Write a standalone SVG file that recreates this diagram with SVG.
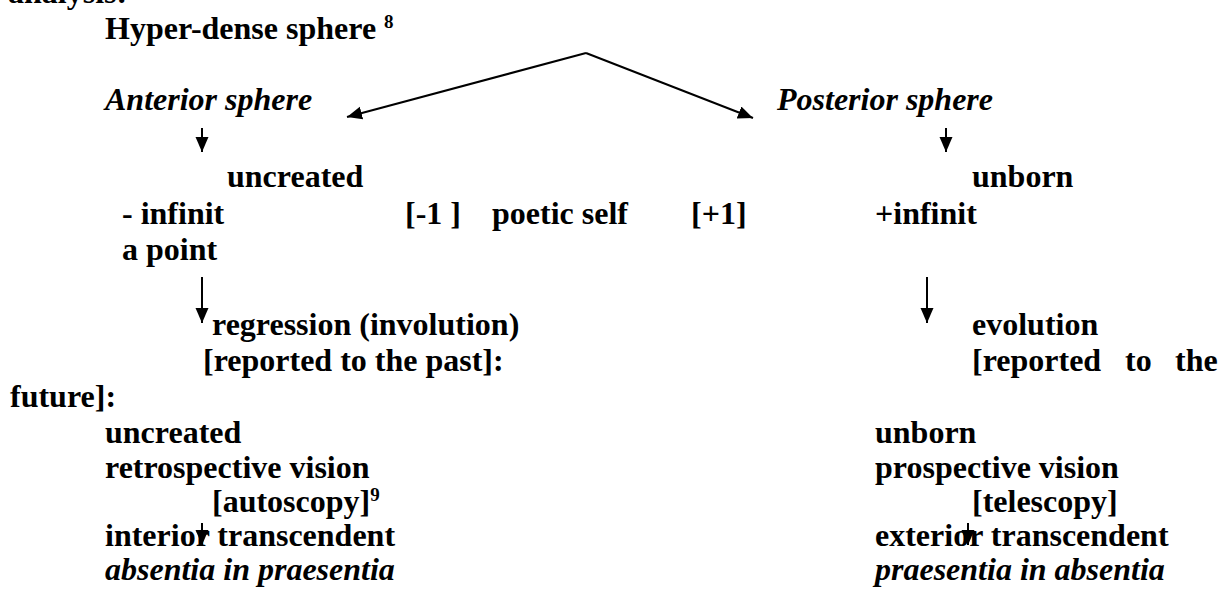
<svg xmlns="http://www.w3.org/2000/svg" width="1224" height="597" viewBox="0 0 1224 597">
<style>
text{font-family:"Liberation Serif","Times New Roman",serif;font-size:32px;font-weight:bold;fill:#000}
.it{font-style:italic}
.sup{font-size:19px}
.conn{stroke:#000;stroke-width:2;fill:none}
</style>
<defs>
<marker id="ah" markerUnits="userSpaceOnUse" markerWidth="16" markerHeight="14" refX="15" refY="6.5" orient="auto">
<path d="M0,0 L15,6.5 L0,13 z" fill="#000"/>
</marker>
</defs>
<rect width="1224" height="597" fill="#fff"/>
<g id="analysis"><text x="8" y="3">analysis:</text></g>
<g id="hyper"><text x="105" y="39">Hyper-dense sphere <tspan class="sup" dy="-11">8</tspan></text></g>
<g id="anterior"><text class="it" x="105" y="110">Anterior sphere</text></g>
<g id="posterior"><text class="it" x="777" y="110">Posterior sphere</text></g>
<g id="uncreated1"><text x="227" y="187">uncreated</text></g>
<g id="unborn1"><text x="972" y="187">unborn</text></g>
<g id="minfinit"><text x="122" y="224">- infinit</text></g>
<g id="minus1"><text x="405" y="224">[-1 ]</text></g>
<g id="poetic"><text x="492" y="224">poetic self</text></g>
<g id="plus1"><text x="691" y="224">[+1]</text></g>
<g id="pinfinit"><text x="875" y="224">+infinit</text></g>
<g id="apoint"><text x="122" y="260">a point</text></g>
<g id="regression"><text x="212" y="335">regression (involution)</text></g>
<g id="evolution"><text x="972" y="335">evolution</text></g>
<g id="past"><text x="203" y="371">[reported to the past]:</text></g>
<g id="future"><text y="371"><tspan x="972">[reported</tspan><tspan x="1125">to</tspan><tspan x="1175">the</tspan></text><text x="10" y="407">future]:</text></g>
<g id="uncreated2"><text x="105" y="443">uncreated</text></g>
<g id="unborn2"><text x="875" y="443">unborn</text></g>
<g id="retro"><text x="105" y="478">retrospective vision</text></g>
<g id="prosp"><text x="875" y="478">prospective vision</text></g>
<g id="autoscopy"><text x="212" y="512">[autoscopy]<tspan class="sup" dy="-11">9</tspan></text></g>
<g id="telescopy"><text x="972" y="512">[telescopy]</text></g>
<g id="interior"><text x="105" y="546">interior transcendent</text></g>
<g id="exterior"><text x="875" y="546">exterior transcendent</text></g>
<g id="absentia"><text class="it" x="105" y="580">absentia in praesentia</text></g>
<g id="praesentia"><text class="it" x="875" y="580">praesentia in absentia</text></g>
<g id="connectors" class="conn">
<path d="M586,53 L347,117" marker-end="url(#ah)"/>
<path d="M586,53 L753,118" marker-end="url(#ah)"/>
<path d="M202,128 L202,152" marker-end="url(#ah)"/>
<path d="M946,128 L946,152" marker-end="url(#ah)"/>
<path d="M202,277 L202,323" marker-end="url(#ah)"/>
<path d="M927,277 L927,323" marker-end="url(#ah)"/>
<path d="M202,523 L202,545" marker-end="url(#ah)"/>
<path d="M968,523 L968,545" marker-end="url(#ah)"/>
</g>
</svg>
